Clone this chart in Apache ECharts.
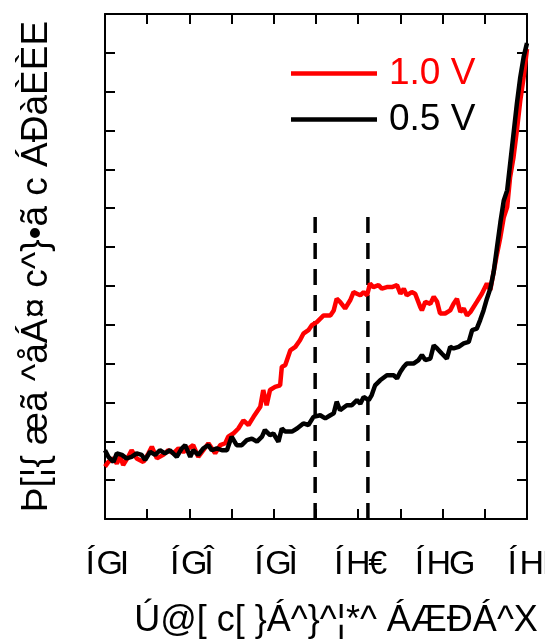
<!DOCTYPE html>
<html>
<head>
<meta charset="utf-8">
<script src="https://cdn.jsdelivr.net/npm/echarts@6/dist/echarts.min.js"></script>
<style>
  html, body { margin: 0; padding: 0; background: #fff; }
  #chart { width: 545px; height: 644px; }
</style>
</head>
<body>
<div id="chart"></div>
<script>
// tick labels (garbled text as in the source figure)
const tickLabels = ['ÍGI', 'ÍGÎ', 'ÍGÌ', 'ÍH€', 'ÍHG', 'ÍHI'];
const xTitle = 'Ú@[ c[ }Á^}^¦*^ ÁÆÐÁ^X';
const yTitle = 'Þ[¦{ æã ^åÁ¤ c^}•ã c ÁÐàÈÈE';
const seriesNames = ['1.0 V', '0.5 V'];

// 1.0 V curve
const redX = [0.00, 0.08, 0.20, 0.28, 0.36, 0.43, 0.55, 0.63, 0.75, 0.91, 1.03, 1.11, 1.23, 1.38, 1.50, 1.62,
  1.74, 1.86, 1.98, 2.09, 2.21, 2.33, 2.45, 2.61, 2.73, 2.85, 2.92, 3.04, 3.16, 3.28, 3.40, 3.52, 3.60, 3.68,
  3.75, 3.83, 3.91, 4.03, 4.15, 4.19, 4.27, 4.39, 4.51, 4.62, 4.70, 4.82, 4.90, 5.02, 5.18, 5.34, 5.42, 5.49,
  5.57, 5.69, 5.81, 5.89, 5.97, 6.05, 6.13, 6.21, 6.28, 6.36, 6.48, 6.56, 6.68, 6.80, 6.92, 7.00, 7.08, 7.15,
  7.27, 7.35, 7.47, 7.51, 7.59, 7.71, 7.79, 7.87, 7.94, 8.06, 8.18, 8.26, 8.34, 8.42, 8.50, 8.58, 8.66, 8.81,
  8.93, 9.05, 9.13, 9.21, 9.29, 9.37, 9.45, 9.53, 9.60, 9.68, 9.76, 9.84, 9.92, 10.00];
const redY = [1.35, 1.47, 1.56, 1.43, 1.61, 1.39, 1.60, 1.77, 1.56, 1.47, 1.69, 1.86, 1.56, 1.65, 1.77, 1.69,
  1.82, 1.73, 1.82, 1.90, 1.60, 1.77, 1.95, 1.69, 1.90, 1.95, 2.12, 2.20, 2.33, 2.54, 2.42, 2.63, 2.76, 2.89,
  3.32, 2.93, 3.32, 3.40, 3.44, 3.92, 3.96, 4.34, 4.43, 4.60, 4.77, 4.86, 4.99, 5.07, 5.24, 5.24, 5.37, 5.67,
  5.59, 5.42, 5.63, 5.84, 5.80, 5.76, 5.84, 5.76, 6.06, 5.97, 6.02, 5.93, 5.97, 5.97, 6.02, 5.80, 5.93, 5.76,
  5.84, 5.80, 5.46, 5.37, 5.59, 5.54, 5.72, 5.59, 5.29, 5.29, 5.37, 5.54, 5.67, 5.33, 5.42, 5.24, 5.33, 5.59,
  5.80, 6.06, 5.89, 6.36, 6.83, 7.26, 7.77, 8.03, 8.80, 9.31, 10.00, 10.77, 11.37, 12.10];

// 0.5 V curve
const blackX = [0.00, 0.08, 0.20, 0.28, 0.40, 0.51, 0.63, 0.75, 0.87, 0.95, 1.07, 1.19, 1.30, 1.42, 1.54, 1.70,
  1.82, 1.90, 2.02, 2.09, 2.21, 2.33, 2.45, 2.53, 2.65, 2.77, 2.89, 3.00, 3.12, 3.24, 3.36, 3.48, 3.60, 3.72,
  3.79, 3.91, 3.99, 4.11, 4.19, 4.27, 4.43, 4.55, 4.70, 4.82, 4.94, 5.10, 5.22, 5.34, 5.42, 5.49, 5.57, 5.73,
  5.85, 5.97, 6.05, 6.13, 6.25, 6.32, 6.40, 6.52, 6.68, 6.84, 6.92, 7.00, 7.08, 7.15, 7.31, 7.43, 7.51, 7.59,
  7.71, 7.79, 7.87, 7.98, 8.10, 8.18, 8.26, 8.38, 8.50, 8.62, 8.70, 8.81, 8.89, 8.97, 9.05, 9.13, 9.21, 9.29,
  9.37, 9.45, 9.53, 9.60, 9.68, 9.76, 9.84, 9.92, 10.00];
const blackY = [1.77, 1.60, 1.47, 1.69, 1.65, 1.56, 1.60, 1.69, 1.65, 1.52, 1.73, 1.65, 1.77, 1.69, 1.77, 1.60,
  1.82, 1.90, 1.60, 1.77, 1.65, 1.82, 1.90, 1.77, 1.82, 1.77, 1.77, 2.12, 1.90, 1.90, 2.03, 2.07, 1.99, 2.12,
  2.29, 2.16, 2.20, 1.99, 2.33, 2.25, 2.25, 2.33, 2.46, 2.42, 2.63, 2.67, 2.59, 2.67, 2.72, 3.02, 2.80, 2.93,
  2.93, 3.06, 2.97, 3.14, 3.06, 3.19, 3.44, 3.57, 3.70, 3.70, 3.62, 3.79, 3.92, 4.00, 4.00, 4.09, 4.22, 4.09,
  4.13, 4.47, 4.39, 4.26, 4.13, 4.43, 4.39, 4.43, 4.52, 4.56, 4.86, 4.90, 5.12, 5.37, 5.67, 5.93, 6.36, 7.00,
  7.64, 8.20, 8.46, 9.14, 9.91, 10.69, 11.37, 11.89, 12.25];

// dashed markers
const dashX = [4.98, 6.23];
const dashTop = 7.86;

const FONT = 'Liberation Sans';

function pairs(xs, ys) {
  return xs.map((x, i) => [x, ys[i]]);
}

const chart = echarts.init(document.getElementById('chart'), null, { renderer: 'canvas' });

const frameAxis = {
  type: 'value',
  min: 0,
  axisLine: { show: true, onZero: false, lineStyle: { color: '#000', width: 2 } },
  axisTick: { show: true, inside: true, length: 10, lineStyle: { color: '#000', width: 2 } },
  splitLine: { show: false },
};

const labelRich = (w1, w2) => ({
  a: { fontFamily: FONT, fontSize: 34, color: '#000', width: w1 },
  b: { fontFamily: FONT, fontSize: 34, color: '#000', width: w2 },
  c: { fontFamily: FONT, fontSize: 34, color: '#000' },
});

const option = {
  backgroundColor: '#fff',
  animation: false,
  grid: { left: 105, right: 18, top: 14, bottom: 125, outerBoundsMode: 'none', containLabel: false },
  legend: {
    data: [
      { name: seriesNames[0], textStyle: { color: '#ff0000' } },
      { name: seriesNames[1], textStyle: { color: '#000' } },
    ],
    orient: 'vertical',
    left: 286,
    top: 50,
    icon: 'rect',
    itemWidth: 86,
    itemHeight: 4.5,
    itemGap: 9,
    textStyle: { fontFamily: FONT, fontSize: 37, padding: [0, 0, 0, 7] },
  },
  xAxis: [
    {
      ...frameAxis,
      max: 10,
      interval: 1,
      position: 'bottom',
      axisLabel: {
        margin: 29,
        fontFamily: FONT,
        fontSize: 34,
        color: '#000',
        formatter: (v) => {
          const i = Math.round(v);
          if (i % 2) return '';
          const s = tickLabels[i / 2];
          return '{a|' + s[0] + '}{b|' + s[1] + '}{c|' + s[2] + '}';
        },
        rich: labelRich(19, 20),
      },
      name: xTitle,
      nameLocation: 'middle',
      nameGap: 84,
      nameTextStyle: { fontFamily: FONT, fontSize: 36, color: '#000', padding: [0, 0, 0, 40] },
    },
    {
      ...frameAxis,
      max: 10,
      interval: 1,
      position: 'top',
      axisLabel: { show: false },
    },
  ],
  yAxis: [
    {
      ...frameAxis,
      max: 13,
      interval: 1,
      position: 'left',
      axisLabel: { show: false },
      name: yTitle,
      nameLocation: 'middle',
      nameGap: 50,
      nameTextStyle: { fontFamily: FONT, fontSize: 37, color: '#000' },
    },
    {
      ...frameAxis,
      max: 13,
      interval: 1,
      position: 'right',
      axisLabel: { show: false },
    },
  ],
  series: [
    {
      name: seriesNames[0],
      type: 'line',
      data: pairs(redX, redY),
      showSymbol: false,
      symbol: 'none',
      lineStyle: { color: '#ff0000', width: 4.5 },
      itemStyle: { color: '#ff0000' },
      z: 3,
    },
    {
      name: seriesNames[1],
      type: 'line',
      data: pairs(blackX, blackY),
      showSymbol: false,
      symbol: 'none',
      lineStyle: { color: '#000', width: 4.5 },
      itemStyle: { color: '#000' },
      z: 4,
    },
    // 虚线
    ...dashX.map((x) => ({
      type: 'line',
      data: [[x, 0], [x, dashTop]],
      showSymbol: false,
      symbol: 'none',
      lineStyle: { color: '#000', width: 3.5, type: [16, 10] },
      z: 2,
      silent: true,
    })),
  ],
};

chart.setOption(option);
</script>
</body>
</html>
